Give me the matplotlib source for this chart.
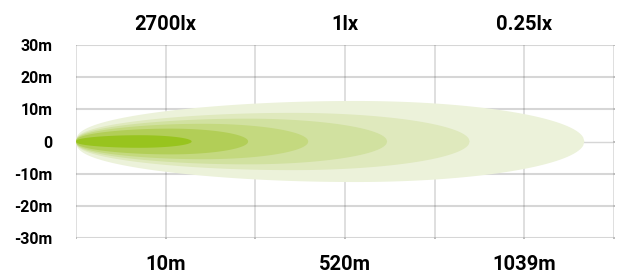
import numpy as np
import matplotlib
matplotlib.use("Agg")
import matplotlib.pyplot as plt

# beam layers, outermost first: reach (in grid columns) and half width (m)
reach = [5.67, 4.39, 3.47, 2.59, 1.92, 1.29]
half_width = [12.6, 8.9, 7.1, 5.5, 4.0, 1.95]
colors = ['#ecf2da', '#dfe9bd', '#d1e1a0', '#c4d97f', '#b2ce57', '#98c41e']

y_ticks = [30, 20, 10, 0, -10, -20, -30]
y_labels = ['30m', '20m', '10m', '0', '-10m', '-20m', '-30m']
dist_pos = [1, 3, 5]
dist_labels = ['10m', '520m', '1039m']
lux_labels = ['2700lx', '1lx', '0.25lx']

plt.rcParams['font.family'] = ['Roboto', 'DejaVu Sans']


def beam_outline(length, width, peak=0.55, p=0.4):
    # teardrop: rounded nose rising to a maximum, then an elliptical tail
    t = np.linspace(0, 1, 400)
    f = np.where(t < peak,
                 np.sin(np.pi / 2 * np.clip(t / peak, 0, 1)) ** p,
                 np.sqrt(np.clip(1 - ((t - peak) / (1 - peak)) ** 2, 0, 1)))
    x = t * length
    y = f * width
    return np.concatenate([x, x[::-1]]), np.concatenate([y, -y[::-1]])


fig = plt.figure(figsize=(6.17, 2.76), dpi=100)
ax = fig.add_axes([76 / 617, 38 / 276, 538 / 617, 193 / 276])

# grid
for yv in y_ticks:
    ax.axhline(yv, color='#d6d6d6', lw=1.0 if yv == 0 else 1.5, zorder=1)
for xv in range(7):
    ax.axvline(xv, color='#d6d6d6', lw=1.1, zorder=1)
gx, gy = np.meshgrid(range(7), y_ticks)
ax.scatter(gx.ravel(), gy.ravel(), marker='s', s=3, color='#bdbdbd', lw=0, zorder=1.5)

for L, W, c in zip(reach, half_width, colors):
    xs, ys = beam_outline(L, W)
    ax.fill(xs, ys, color=c, lw=0, zorder=2)

ax.set_xlim(0, 6)
ax.set_ylim(-30, 30)
ax.set_yticks(y_ticks)
ax.set_yticklabels(y_labels, fontsize=11.5, fontweight='bold')
ax.set_xticks(dist_pos)
ax.set_xticklabels(dist_labels, fontsize=14.5, fontweight='bold')
ax.tick_params(axis='both', length=0)
ax.tick_params(axis='y', pad=17)
ax.tick_params(axis='x', pad=12)
for s in ax.spines.values():
    s.set_visible(False)

top = ax.secondary_xaxis('top')
top.set_xticks(dist_pos)
top.set_xticklabels(lux_labels, fontsize=14.5, fontweight='bold')
top.tick_params(length=0, pad=8)
for s in top.spines.values():
    s.set_visible(False)

fig.savefig('out.png', dpi=100)
